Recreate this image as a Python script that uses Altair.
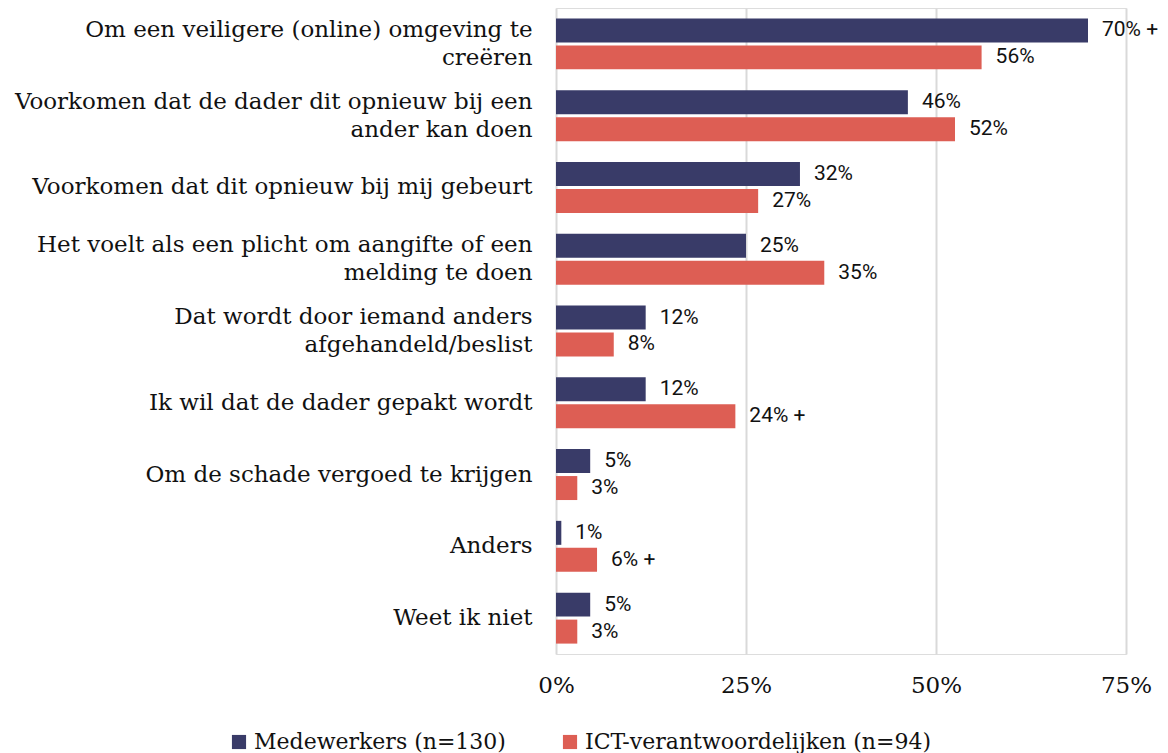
import altair as alt
import pandas as pd

categories = [
    "Om een veiligere (online) omgeving te|creëren",
    "Voorkomen dat de dader dit opnieuw bij een|ander kan doen",
    "Voorkomen dat dit opnieuw bij mij gebeurt",
    "Het voelt als een plicht om aangifte of een|melding te doen",
    "Dat wordt door iemand anders|afgehandeld/beslist",
    "Ik wil dat de dader gepakt wordt",
    "Om de schade vergoed te krijgen",
    "Anders",
    "Weet ik niet",
]
series = ["Medewerkers (n=130)", "ICT-verantwoordelijken (n=94)"]
medewerkers = [70, 46.3, 32.1, 25, 11.8, 11.8, 4.5, 0.7, 4.5]
ict = [56, 52.5, 26.6, 35.3, 7.6, 23.6, 2.8, 5.4, 2.8]
medewerkers_labels = ["70% +", "46%", "32%", "25%", "12%", "12%", "5%", "1%", "5%"]
ict_labels = ["56%", "52%", "27%", "35%", "8%", "24% +", "3%", "6% +", "3%"]
colors = ["#393B68", "#DD5E54"]

rows = []
for i, c in enumerate(categories):
    rows.append({"cat": c, "series": series[0], "value": medewerkers[i], "label": medewerkers_labels[i]})
    rows.append({"cat": c, "series": series[1], "value": ict[i], "label": ict_labels[i]})
df = pd.DataFrame(rows)

SERIF = "DejaVu Serif"

y_enc = alt.Y(
    "cat:N",
    sort=categories,
    scale=alt.Scale(paddingInner=0.29, paddingOuter=0.145),
    axis=alt.Axis(
        title=None,
        labelExpr="split(datum.label, '|')",
        labelFont=SERIF,
        labelFontSize=23,
        labelColor="#111111",
        labelLineHeight=28,
        labelPadding=24,
        labelLimit=600,
        labelBaseline="middle",
        labelOffset={
            "condition": {"test": "indexof(datum.value, '|') >= 0", "value": -14},
            "value": 0,
        },
        ticks=False,
        domain=False,
    ),
)
yoff_enc = alt.YOffset(
    "series:N",
    sort=series,
    scale=alt.Scale(domain=series, paddingInner=0.111, paddingOuter=0),
)
x_enc = alt.X(
    "value:Q",
    scale=alt.Scale(domain=[0, 75], nice=False),
    axis=alt.Axis(
        title=None,
        values=[0, 25, 50, 75],
        labelExpr="datum.value + '%'",
        labelFont=SERIF,
        labelFontSize=23,
        labelColor="#111111",
        labelPadding=20,
        labelFlush=False,
        ticks=False,
        domain=False,
        grid=True,
        gridColor="#D9D9D9",
        gridWidth=2,
    ),
)

base = alt.Chart(df)

bars = base.mark_bar().encode(
    y=y_enc,
    yOffset=yoff_enc,
    x=x_enc,
    color=alt.Color(
        "series:N",
        sort=series,
        scale=alt.Scale(domain=series, range=colors),
        legend=alt.Legend(
            title=None,
            orient="none",
            legendX=-328,
            legendY=723,
            direction="horizontal",
            symbolType="square",
            symbolSize=200,
            symbolStrokeWidth=0,
            labelFont=SERIF,
            labelFontSize=22,
            labelColor="#111111",
            labelLimit=500,
            columnPadding=53,
            labelOffset=4,
        ),
    ),
)

texts = base.mark_text(
    align="left", baseline="middle", dx=14, font="Roboto", fontSize=21, color="#111111"
).encode(
    y=alt.Y("cat:N", sort=categories),
    yOffset=alt.YOffset("series:N", sort=series),
    x=alt.X("value:Q"),
    text="label:N",
)

chart = (
    alt.layer(bars, texts)
    .properties(
        width=570,
        height=646,
        autosize=alt.AutoSizeParams(type="none"),
        padding={"left": 548, "top": 0, "right": 34, "bottom": 105},
    )
    .configure_view(stroke=None)
    .configure(background="white")
)

chart.save("out.html", embed_options={"renderer": "svg", "actions": False})
